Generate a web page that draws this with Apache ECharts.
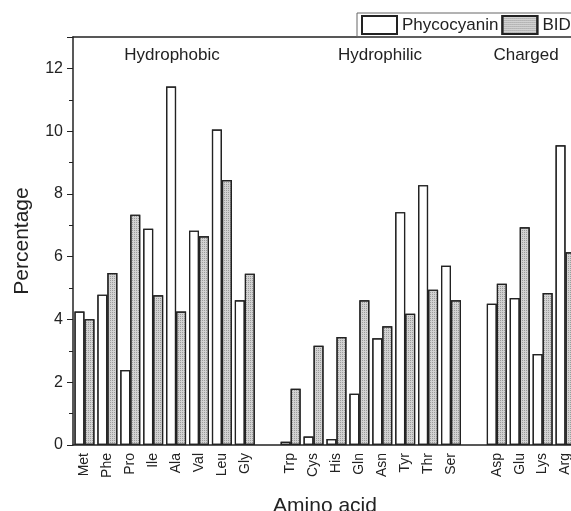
<!DOCTYPE html>
<html>
<head>
<meta charset="utf-8">
<script src="https://cdn.jsdelivr.net/npm/echarts@6/dist/echarts.min.js"></script>
<style>html,body{margin:0;padding:0;background:#fff;}#c{width:571px;height:511px;}</style>
</head>
<body>
<div id="c"></div>
<script>
var categories = ['Met','Phe','Pro','Ile','Ala','Val','Leu','Gly','','Trp','Cys','His','Gln','Asn','Tyr','Thr','Ser','','Asp','Glu','Lys','Arg'];
var phycocyanin = [4.25,4.79,2.39,6.89,11.42,6.83,10.05,4.61,null,0.1,0.27,0.19,1.63,3.4,7.42,8.28,5.71,null,4.5,4.68,2.9,9.55];
var bid = [4.01,5.48,7.34,4.77,4.25,6.65,8.44,5.46,null,1.79,3.16,3.44,4.61,3.78,4.18,4.95,4.61,null,5.14,6.94,4.84,6.14];
var yTicks = [0,2,4,6,8,10,12];
var groups = [{name:'Hydrophobic', x:172}, {name:'Hydrophilic', x:380}, {name:'Charged', x:526}];

var chart = echarts.init(document.getElementById('c'));
var font = 'Liberation Sans, Arial, sans-serif';
var option = {
  animation: false,
  aria: {enabled: true, decal: {show: true}},
  grid: {left: 73, top: 37, width: 504, height: 408, outerBoundsMode: 'none', containLabel: false},
  legend: {
    orient: 'horizontal', left: 357, top: 13, width: 300, itemWidth: 35, itemHeight: 18, itemGap: 3, icon: 'rect',
    padding: [2, 4, 2, 4], borderColor: '#666', borderWidth: 1,
    textStyle: {fontFamily: font, fontSize: 17, color: '#222'},
    data: ['Phycocyanin', 'BID']
  },
  xAxis: [{
    type: 'category', data: categories, position: 'bottom',
    name: 'Amino acid', nameLocation: 'middle', nameGap: 51,
    nameTextStyle: {fontFamily: font, fontSize: 21, color: '#222'},
    axisLine: {lineStyle: {color: '#222', width: 1.5}},
    axisTick: {alignWithLabel: true, length: 6, lineStyle: {color: '#222'}},
    axisLabel: {rotate: 90, fontFamily: font, fontSize: 14, color: '#222', margin: 8, interval: 0}
  }, {
    type: 'category', data: categories, position: 'bottom', gridIndex: 0,
    axisLine: {show: false},
    axisTick: {length: 3, lineStyle: {color: '#222'}},
    axisLabel: {show: false}
  }, {
    type: 'category', data: categories, position: 'top',
    axisLine: {lineStyle: {color: '#222', width: 1.5}},
    axisTick: {show: false}, axisLabel: {show: false}
  }],
  yAxis: {
    type: 'value', min: 0, max: 13, interval: 2,
    name: 'Percentage', nameLocation: 'middle', nameGap: 40,
    nameTextStyle: {fontFamily: font, fontSize: 21, color: '#222'},
    axisLine: {show: true, lineStyle: {color: '#222', width: 1.5}},
    axisTick: {show: true, length: 6, lineStyle: {color: '#222'}},
    minorTick: {show: true, splitNumber: 2, length: 4, lineStyle: {color: '#222'}},
    splitLine: {show: false},
    axisLabel: {fontFamily: font, fontSize: 16, color: '#222', margin: 10,
      formatter: function (v) { return yTicks.indexOf(v) >= 0 ? String(v) : ''; }}
  },
  series: [{
    name: 'Phycocyanin', type: 'bar', data: phycocyanin, barWidth: 10, barGap: '0%',
    itemStyle: {color: '#fff', borderColor: '#222', borderWidth: 1.2, decal: {symbol: 'rect', color: 'rgba(0,0,0,0)'}}
  }, {
    name: 'BID', type: 'bar', data: bid, barWidth: 10,
    itemStyle: {color: '#d2d2d2', borderColor: '#222', borderWidth: 1.2,
      decal: {symbol: 'rect', symbolSize: 1, dashArrayX: [1, 1], dashArrayY: [1, 1], color: 'rgba(90,90,90,0.45)', rotation: 0}}
  }],
  graphic: groups.map(function (g) {
    return {type: 'text', x: g.x, y: 55, style: {text: g.name, fontFamily: font, fontSize: 17, fill: '#222', textAlign: 'center', textVerticalAlign: 'middle'}};
  })
};
chart.setOption(option);
</script>
</body>
</html>
